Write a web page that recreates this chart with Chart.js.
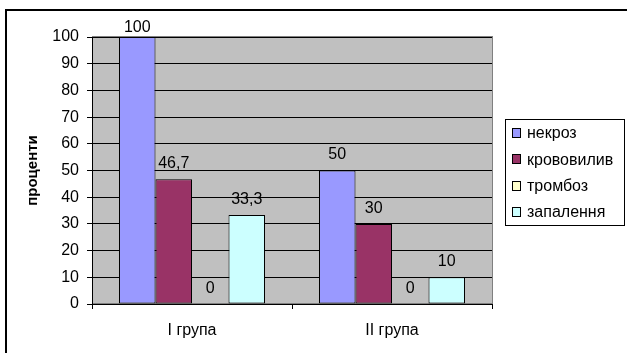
<!DOCTYPE html>
<html>
<head>
<meta charset="utf-8">
<script src="https://cdn.jsdelivr.net/npm/chart.js@4/dist/chart.umd.min.js"></script>
<style>
  html, body { margin: 0; padding: 0; background: #fff; overflow: hidden; }
  #frame { position: absolute; left: 5px; top: 9px; width: 700px; height: 400px; border: 2px solid #000; box-sizing: border-box; }
  #wrap { position: absolute; left: 0; top: 0; width: 627px; height: 353px; }
</style>
</head>
<body>
<div id="frame"></div>
<div id="wrap"><canvas id="c" width="627" height="353"></canvas></div>
<script>
// Groups on the category axis
const groups = ['I група', 'II група'];

// Share of cases (%) for each finding, per group
const nekroz = [100, 50];
const krovovyliv = [46.7, 30];
const tromboz = [0, 0];
const zapalennia = [33.3, 10];

const seriesNames = ['некроз', 'крововилив', 'тромбоз', 'запалення'];
const seriesColors = ['#9999FF', '#993366', '#FFFFCC', '#CCFFFF'];

const FONT = '"Liberation Sans", Arial, sans-serif';

const valueSets = [nekroz, krovovyliv, tromboz, zapalennia];
const datasets = valueSets.map((vals, i) => ({
  label: seriesNames[i],
  data: vals,
  backgroundColor: seriesColors[i],
  borderColor: '#000',
  borderWidth: 1,
  borderSkipped: false,
  categoryPercentage: 0.73,
  barPercentage: 1.0
}));

// Grey plot area with a thin darker frame
const plotBackground = {
  id: 'plotBackground',
  beforeDraw(chart) {
    const { ctx, chartArea: a } = chart;
    ctx.save();
    ctx.fillStyle = '#C0C0C0';
    ctx.fillRect(a.left, a.top, a.right - a.left, a.bottom - a.top);
    ctx.strokeStyle = '#808080';
    ctx.lineWidth = 1;
    ctx.strokeRect(a.left + 0.5, a.top - 0.5, a.right - a.left, a.bottom - a.top);
    ctx.restore();
  }
};

// Value labels above each bar, decimal comma
const valueLabels = {
  id: 'valueLabels',
  afterDatasetsDraw(chart) {
    const { ctx, chartArea: a } = chart;
    ctx.save();
    ctx.font = '16px ' + FONT;
    ctx.fillStyle = '#000';
    ctx.textAlign = 'center';
    ctx.textBaseline = 'middle';
    chart.data.datasets.forEach((ds, di) => {
      const meta = chart.getDatasetMeta(di);
      meta.data.forEach((bar, i) => {
        const v = ds.data[i];
        const y = Math.max(bar.y - 15.5, a.top - 9);
        ctx.fillText(String(v).replace('.', ','), bar.x, y);
      });
    });
    ctx.restore();
  }
};

// Boxed legend on the right
const boxLegend = {
  id: 'boxLegend',
  afterDraw(chart) {
    const { ctx } = chart;
    const x0 = 505, y0 = 119, w = 119, h = 106;
    ctx.save();
    ctx.fillStyle = '#fff';
    ctx.fillRect(x0, y0, w, h);
    ctx.strokeStyle = '#000';
    ctx.lineWidth = 1;
    ctx.strokeRect(x0 + 0.5, y0 + 0.5, w, h);
    ctx.font = '16px ' + FONT;
    ctx.textBaseline = 'middle';
    ctx.textAlign = 'left';
    chart.data.datasets.forEach((ds, i) => {
      const cy = 133 + i * 26.3;
      ctx.fillStyle = ds.backgroundColor;
      ctx.fillRect(512.5, Math.round(cy) - 4.5, 8, 9);
      ctx.strokeStyle = '#000';
      ctx.strokeRect(512.5, Math.round(cy) - 4.5, 8, 9);
      ctx.fillStyle = '#000';
      ctx.fillText(ds.label, 527, cy + 1);
    });
    ctx.restore();
  }
};

new Chart(document.getElementById('c'), {
  type: 'bar',
  data: { labels: groups, datasets },
  options: {
    responsive: false,
    animation: false,
    devicePixelRatio: 1,
    layout: { padding: { top: 37, right: 135, left: 0, bottom: 0 } },
    plugins: { legend: { display: false }, tooltip: { enabled: false } },
    scales: {
      x: {
        grid: { display: true, drawOnChartArea: false, offset: true, color: '#000', tickColor: '#000', tickLength: 5 },
        border: { color: '#000', width: 1 },
        ticks: { color: '#000', font: { family: FONT, size: 16 }, padding: 12 },
        afterFit(s) { s.height = 49; }
      },
      y: {
        min: 0,
        max: 100,
        ticks: { stepSize: 10, color: '#000', font: { family: FONT, size: 16 }, padding: 8 },
        grid: { color: '#000', tickColor: '#000', tickLength: 5, lineWidth: 1 },
        border: { color: '#000', width: 1 },
        title: { display: true, text: 'проценти', color: '#000', font: { family: FONT, size: 15, weight: 'bold' }, padding: { top: 24, bottom: 0 } },
        afterFit(s) { s.width = 92; }
      }
    }
  },
  plugins: [plotBackground, valueLabels, boxLegend]
});
</script>
</body>
</html>
